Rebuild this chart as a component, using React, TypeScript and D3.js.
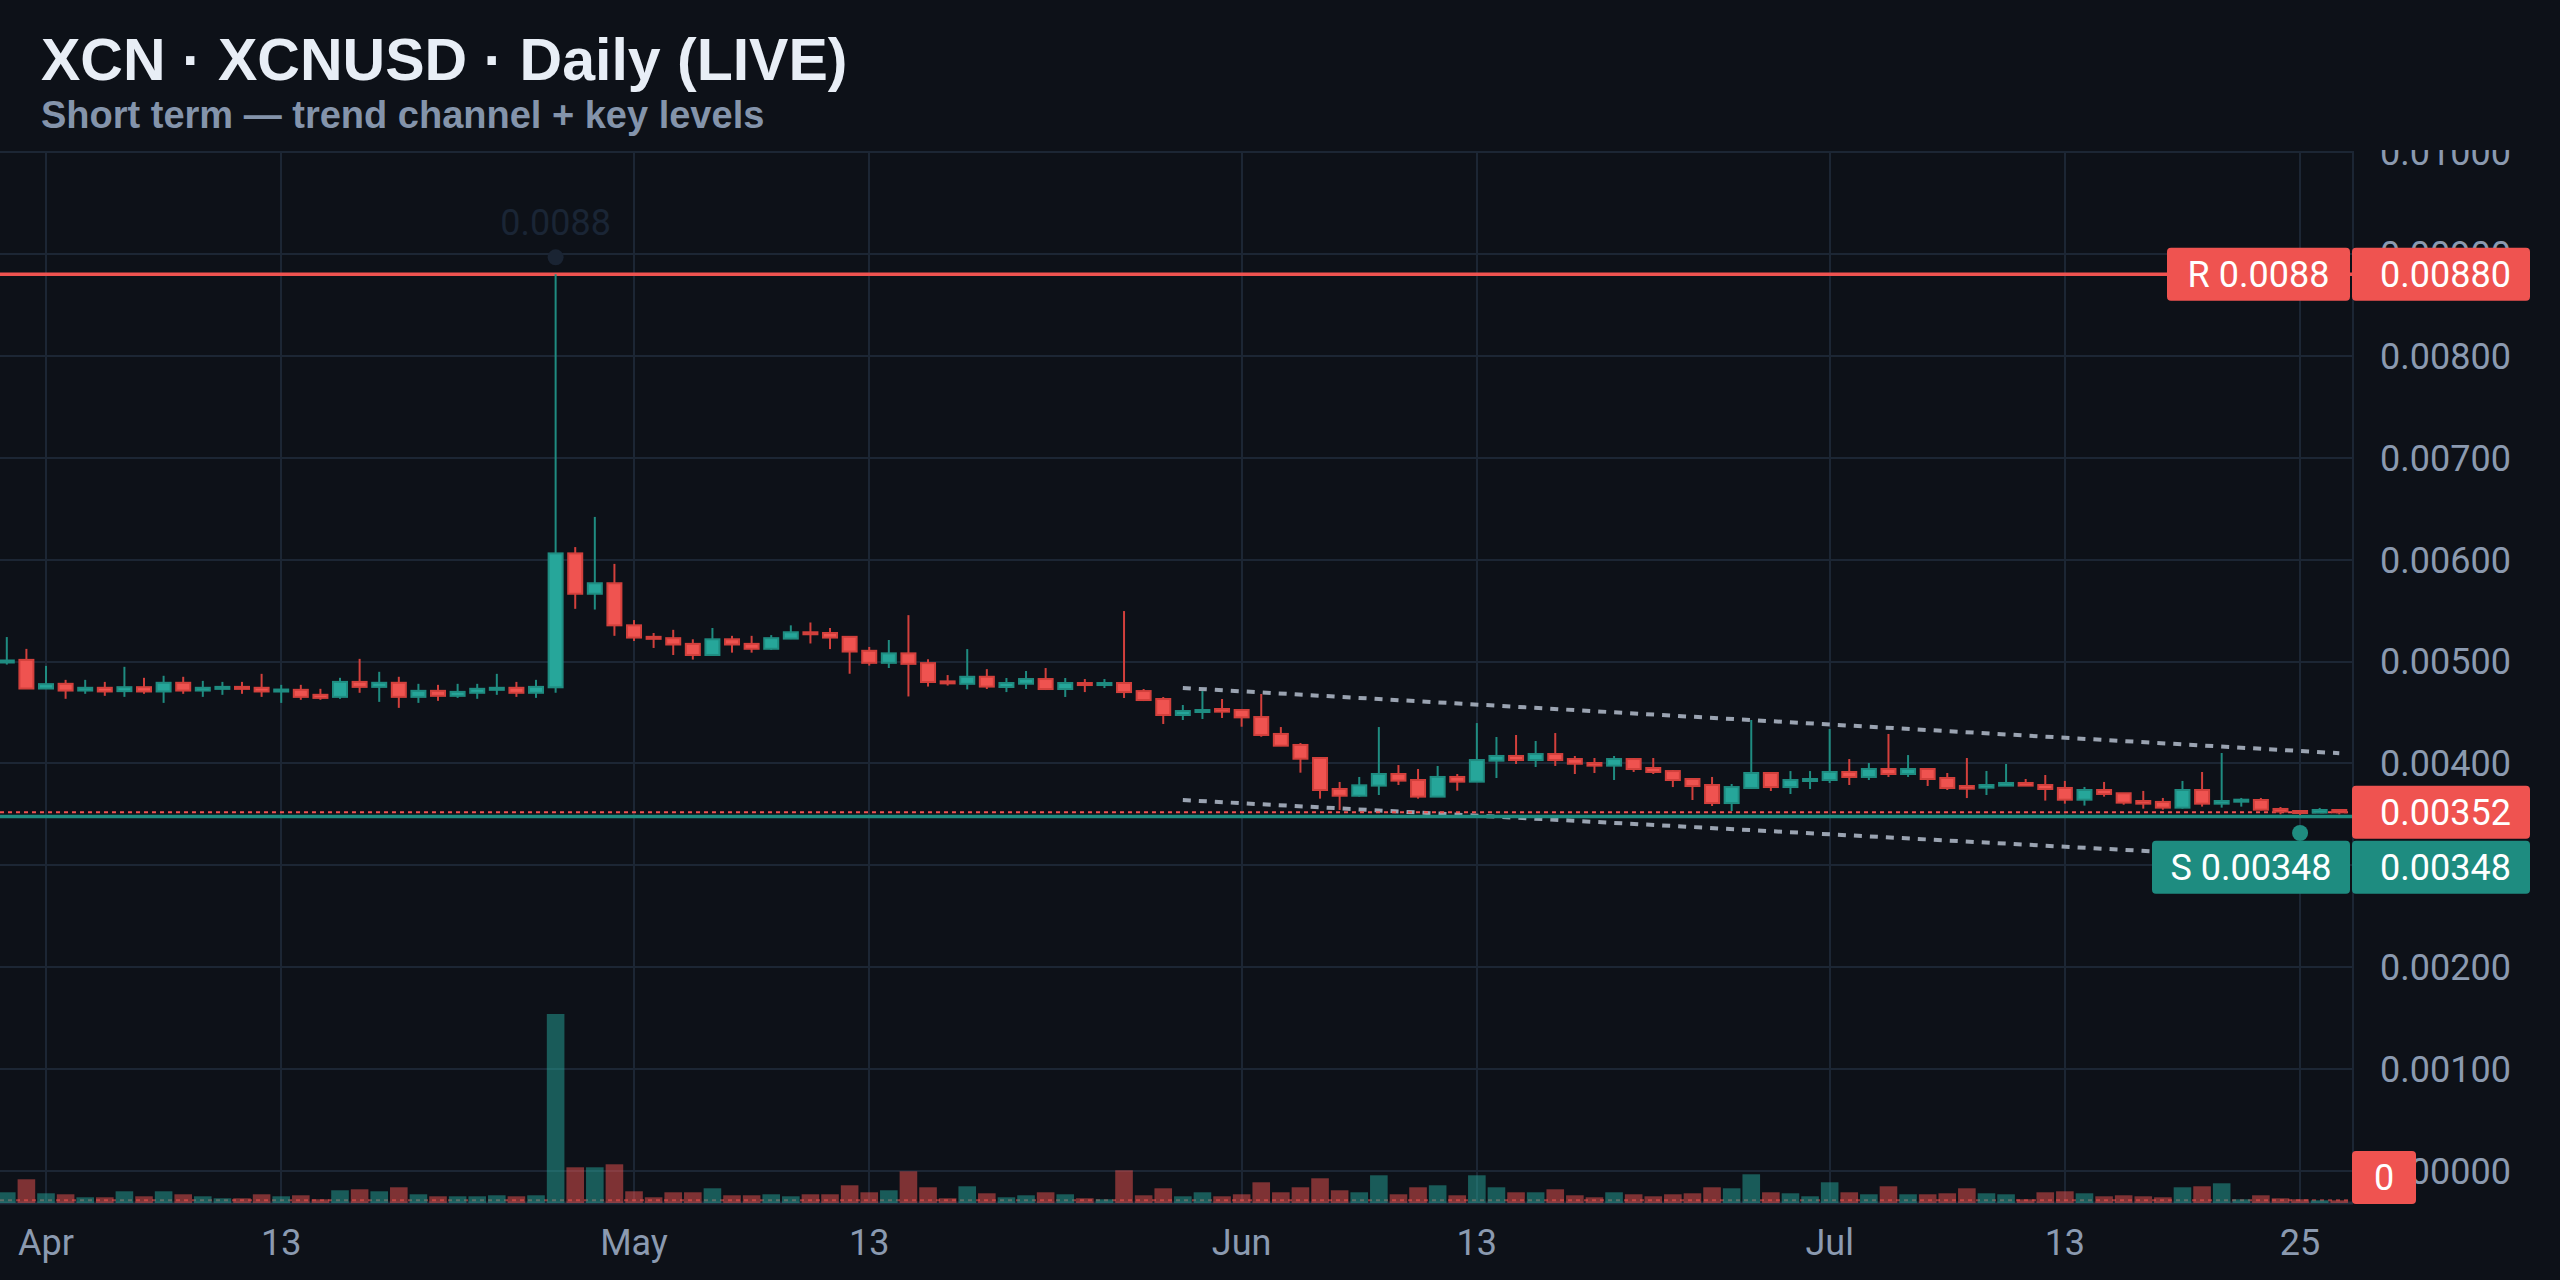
import React, { useRef, useEffect } from 'react';
import * as d3 from 'd3';

// canvas
const width = 2560;
const height = 1280;
const plot = { left: 0, right: 2353, top: 151, bottom: 1203 };

// daily candles, Mar 30 -> Jul 27
const firstDay = new Date(Date.UTC(2025, 2, 30));
const lastDay = new Date(Date.UTC(2025, 6, 27));

const opens = [
  0.005000, 0.005016, 0.004735, 0.004781, 0.004715, 0.004742, 0.004709, 0.004748, 0.004706, 0.004791,
  0.004715, 0.004735, 0.004751, 0.004742, 0.004706, 0.004722, 0.004673, 0.004653, 0.004800, 0.004751,
  0.004791, 0.004653, 0.004712, 0.004663, 0.004693, 0.004722, 0.004742, 0.004693, 0.004747, 0.006061,
  0.005665, 0.005768, 0.005355, 0.005242, 0.005229, 0.005173, 0.005064, 0.005218, 0.005173, 0.005125,
  0.005225, 0.005287, 0.005280, 0.005242, 0.005105, 0.004987, 0.005080, 0.004984, 0.004805, 0.004781,
  0.004850, 0.004750, 0.004782, 0.004828, 0.004730, 0.004789, 0.004769, 0.004789, 0.004710, 0.004632,
  0.004475, 0.004508, 0.004534, 0.004524, 0.004455, 0.004289, 0.004181, 0.004053, 0.003749, 0.003683,
  0.003782, 0.003896, 0.003837, 0.003674, 0.003867, 0.003821, 0.004027, 0.004073, 0.004033, 0.004092,
  0.004043, 0.004004, 0.003978, 0.004043, 0.003955, 0.003925, 0.003847, 0.003788, 0.003611, 0.003759,
  0.003906, 0.003768, 0.003831, 0.003837, 0.003916, 0.003867, 0.003945, 0.003896, 0.003945, 0.003857,
  0.003778, 0.003762, 0.003782, 0.003808, 0.003788, 0.003759, 0.003644, 0.003739, 0.003707, 0.003631,
  0.003622, 0.003566, 0.003739, 0.003605, 0.003625, 0.003641, 0.003553, 0.003533, 0.003517, 0.003543,
];
const highs = [
  0.005240, 0.005124, 0.004957, 0.004820, 0.004820, 0.004800, 0.004948, 0.004840, 0.004860, 0.004850,
  0.004810, 0.004800, 0.004800, 0.004879, 0.004771, 0.004771, 0.004732, 0.004840, 0.005026, 0.004899,
  0.004850, 0.004781, 0.004771, 0.004781, 0.004781, 0.004879, 0.004800, 0.004820, 0.008800, 0.006123,
  0.006419, 0.005958, 0.005407, 0.005280, 0.005311, 0.005218, 0.005329, 0.005252, 0.005252, 0.005259,
  0.005355, 0.005383, 0.005329, 0.005245, 0.005143, 0.005211, 0.005455, 0.005022, 0.004867, 0.005122,
  0.004925, 0.004838, 0.004907, 0.004936, 0.004838, 0.004828, 0.004828, 0.005495, 0.004730, 0.004652,
  0.004573, 0.004710, 0.004632, 0.004530, 0.004681, 0.004357, 0.004200, 0.004060, 0.003818, 0.003867,
  0.004357, 0.003984, 0.003945, 0.003975, 0.003896, 0.004396, 0.004259, 0.004279, 0.004220, 0.004298,
  0.004073, 0.004053, 0.004073, 0.004053, 0.004053, 0.003935, 0.003857, 0.003867, 0.003798, 0.004426,
  0.003910, 0.003925, 0.003925, 0.004338, 0.004043, 0.004004, 0.004289, 0.004082, 0.003950, 0.003906,
  0.004053, 0.003926, 0.003994, 0.003847, 0.003886, 0.003828, 0.003769, 0.003818, 0.003710, 0.003730,
  0.003661, 0.003828, 0.003916, 0.004102, 0.003661, 0.003661, 0.003572, 0.003535, 0.003563, 0.003543,
];
const lows = [
  0.004970, 0.004730, 0.004730, 0.004634, 0.004683, 0.004663, 0.004653, 0.004683, 0.004594, 0.004683,
  0.004653, 0.004673, 0.004683, 0.004653, 0.004594, 0.004624, 0.004624, 0.004634, 0.004693, 0.004604,
  0.004545, 0.004594, 0.004614, 0.004643, 0.004634, 0.004673, 0.004653, 0.004643, 0.004693, 0.005517,
  0.005510, 0.005252, 0.005201, 0.005133, 0.005064, 0.005019, 0.005060, 0.005087, 0.005087, 0.005115,
  0.005220, 0.005177, 0.005122, 0.004880, 0.004960, 0.004936, 0.004657, 0.004754, 0.004764, 0.004726,
  0.004730, 0.004700, 0.004730, 0.004720, 0.004652, 0.004700, 0.004740, 0.004642, 0.004612, 0.004387,
  0.004426, 0.004436, 0.004446, 0.004360, 0.004262, 0.004170, 0.003909, 0.003654, 0.003543, 0.003674,
  0.003690, 0.003788, 0.003654, 0.003670, 0.003732, 0.003820, 0.003857, 0.003994, 0.003965, 0.003975,
  0.003896, 0.003906, 0.003837, 0.003916, 0.003896, 0.003768, 0.003641, 0.003582, 0.003533, 0.003755,
  0.003729, 0.003700, 0.003749, 0.003808, 0.003788, 0.003837, 0.003867, 0.003867, 0.003778, 0.003739,
  0.003660, 0.003690, 0.003780, 0.003780, 0.003635, 0.003605, 0.003586, 0.003674, 0.003595, 0.003556,
  0.003546, 0.003556, 0.003576, 0.003566, 0.003576, 0.003540, 0.003501, 0.003494, 0.003515, 0.003500,
];
const closes = [
  0.005010, 0.004735, 0.004778, 0.004715, 0.004742, 0.004706, 0.004748, 0.004706, 0.004791, 0.004715,
  0.004742, 0.004751, 0.004732, 0.004706, 0.004725, 0.004653, 0.004643, 0.004800, 0.004751, 0.004791,
  0.004653, 0.004712, 0.004663, 0.004702, 0.004732, 0.004742, 0.004693, 0.004751, 0.006061, 0.005665,
  0.005768, 0.005355, 0.005235, 0.005229, 0.005167, 0.005064, 0.005218, 0.005167, 0.005125, 0.005229,
  0.005287, 0.005270, 0.005235, 0.005098, 0.004987, 0.005080, 0.004977, 0.004799, 0.004788, 0.004850,
  0.004754, 0.004789, 0.004828, 0.004730, 0.004789, 0.004769, 0.004789, 0.004700, 0.004622, 0.004475,
  0.004514, 0.004524, 0.004508, 0.004452, 0.004279, 0.004174, 0.004046, 0.003739, 0.003683, 0.003785,
  0.003896, 0.003831, 0.003674, 0.003867, 0.003821, 0.004033, 0.004073, 0.004033, 0.004092, 0.004033,
  0.003997, 0.003978, 0.004043, 0.003945, 0.003916, 0.003837, 0.003778, 0.003611, 0.003768, 0.003906,
  0.003768, 0.003837, 0.003847, 0.003916, 0.003867, 0.003945, 0.003896, 0.003945, 0.003847, 0.003759,
  0.003752, 0.003788, 0.003808, 0.003782, 0.003749, 0.003644, 0.003739, 0.003700, 0.003615, 0.003605,
  0.003566, 0.003739, 0.003605, 0.003631, 0.003644, 0.003546, 0.003527, 0.003517, 0.003543, 0.003520,
];
// volume, millions
const volumes = [
  10.7, 23.7, 9.7, 8.7, 5.7, 5.7, 11.7, 6.7, 11.7, 8.7,
  6.7, 4.7, 4.7, 8.7, 6.7, 7.7, 3.7, 12.7, 13.7, 11.7,
  15.7, 8.7, 6.7, 6.7, 6.7, 7.7, 6.7, 7.7, 189, 35.7,
  35.7, 38.7, 11.7, 5.7, 10.7, 10.7, 14.7, 7.7, 7.7, 8.7,
  6.7, 8.7, 8.7, 17.7, 10.7, 12.7, 31.7, 15.7, 4.7, 16.7,
  9.7, 5.7, 7.7, 10.7, 8.7, 4.7, 3.7, 32.7, 7.7, 14.7,
  6.7, 10.7, 6.7, 8.7, 20.7, 10.7, 15.7, 24.7, 12.7, 10.7,
  27.7, 8.7, 15.7, 17.7, 7.7, 27.7, 15.7, 10.7, 10.7, 13.7,
  7.7, 5.7, 10.7, 8.7, 6.7, 8.7, 9.7, 15.7, 14.7, 28.7,
  10.7, 9.7, 6.7, 20.7, 10.7, 8.7, 16.7, 8.7, 8.7, 9.7,
  14.7, 9.7, 8.7, 3.7, 10.7, 11.7, 9.7, 6.7, 7.7, 6.7,
  5.7, 15.7, 16.7, 19.7, 3.7, 7.7, 4.7, 3.7, 2.7, 2.7,
];

const tickDates = ['2025-04-01', '2025-04-13', '2025-05-01', '2025-05-13', '2025-06-01', '2025-06-13', '2025-07-01', '2025-07-13', '2025-07-25'];
const tickLabels = ['Apr', '13', 'May', '13', 'Jun', '13', 'Jul', '13', '25'];
const priceTicks = [0, 0.001, 0.002, 0.003, 0.004, 0.005, 0.006, 0.007, 0.008, 0.009, 0.01];

const resistance = 0.0088;
const support = 0.00348;
const lastPrice = 0.00352;
const channelDates = ['2025-05-29', '2025-07-27'];
const channelUpper = [0.00474, 0.0041];
const channelLower = [0.00364, 0.00304];

const BG = '#0d1118';
const GRID = '#1c2634';
const UP = '#26a69a';
const DOWN = '#ef5350';
const UP_EDGE = '#1f8c81';
const DOWN_EDGE = '#d2403c';
const AXIS_TEXT = '#8b9ab0';
const AXIS_FONT = 'Roboto, sans-serif';

export default function App() {
  const svgRef = useRef<SVGSVGElement>(null);

  useEffect(() => {
    if (!svgRef.current) return;
    const svg = d3.select(svgRef.current);
    svg.selectAll('*').remove();

    const days = d3.utcDay.range(firstDay, d3.utcDay.offset(lastDay, 1));
    const data = days.map((d, i) => ({
      date: d, o: opens[i], h: highs[i], l: lows[i], c: closes[i], v: volumes[i],
    }));

    const dayMs = 864e5;
    const apr1 = Date.UTC(2025, 3, 1);
    const x = d3.scaleUtc()
      .domain([new Date(apr1 - 2.347 * dayMs), new Date(apr1 + 117.7 * dayMs)])
      .range([plot.left, plot.right]);
    const y = d3.scaleLinear().domain([-0.000314, 0.01001]).range([plot.bottom, plot.top]);
    const yVol = d3.scaleLinear().domain([0, d3.max(volumes)!]).range([plot.bottom, plot.bottom - 189]);
    const parse = d3.utcParse('%Y-%m-%d');

    svg.append('rect').attr('width', width).attr('height', height).attr('fill', BG);

    svg.append('clipPath').attr('id', 'plotClip')
      .append('rect').attr('x', plot.left).attr('y', plot.top)
      .attr('width', plot.right - plot.left).attr('height', plot.bottom - plot.top);
    svg.append('clipPath').attr('id', 'axisClip')
      .append('rect').attr('x', plot.right).attr('y', plot.top - 1)
      .attr('width', width - plot.right).attr('height', height - plot.top);

    // grid
    const grid = svg.append('g').attr('stroke', GRID).attr('stroke-width', 2);
    grid.selectAll('.hg').data(priceTicks).join('line')
      .attr('x1', plot.left).attr('x2', plot.right)
      .attr('y1', d => Math.round(y(d))).attr('y2', d => Math.round(y(d)));
    grid.selectAll('.vg').data(tickDates).join('line')
      .attr('x1', d => Math.round(x(parse(d)!))).attr('x2', d => Math.round(x(parse(d)!)))
      .attr('y1', plot.top).attr('y2', plot.bottom);
    grid.append('line').attr('x1', plot.right).attr('x2', plot.right).attr('y1', plot.top).attr('y2', plot.bottom);
    grid.append('line').attr('x1', plot.left).attr('x2', plot.right).attr('y1', plot.bottom).attr('y2', plot.bottom)
      .attr('stroke', '#222d3c').attr('stroke-width', 3);

    const chart = svg.append('g').attr('clip-path', 'url(#plotClip)');

    // volume
    const lastVol = volumes[volumes.length - 1];
    chart.append('line')
      .attr('x1', plot.left).attr('x2', plot.right)
      .attr('y1', yVol(lastVol)).attr('y2', yVol(lastVol))
      .attr('stroke', DOWN).attr('stroke-opacity', 0.6).attr('stroke-width', 2)
      .attr('stroke-dasharray', '4 4');
    chart.selectAll('.vol').data(data).join('rect')
      .attr('x', d => x(d.date) - 8.8)
      .attr('width', 17.6)
      .attr('y', d => yVol(d.v))
      .attr('height', d => plot.bottom - yVol(d.v))
      .attr('fill', d => (d.c >= d.o ? UP : DOWN))
      .attr('fill-opacity', 0.5);

    // trend channel
    const channel = [channelUpper, channelLower];
    chart.selectAll('.chan').data(channel).join('line')
      .attr('x1', x(parse(channelDates[0])!)).attr('x2', x(parse(channelDates[1])!))
      .attr('y1', d => y(d[0])).attr('y2', d => y(d[1]))
      .attr('stroke', '#9aa3b1').attr('stroke-width', 4)
      .attr('stroke-dasharray', '8 8');

    // key levels
    chart.append('line')
      .attr('x1', plot.left).attr('x2', plot.right)
      .attr('y1', y(support)).attr('y2', y(support))
      .attr('stroke', '#1f8c80').attr('stroke-width', 3.5);
    chart.append('line')
      .attr('x1', plot.left).attr('x2', plot.right)
      .attr('y1', y(resistance)).attr('y2', y(resistance))
      .attr('stroke', DOWN).attr('stroke-width', 3.5);
    chart.append('line')
      .attr('x1', plot.left).attr('x2', plot.right)
      .attr('y1', y(lastPrice)).attr('y2', y(lastPrice))
      .attr('stroke', DOWN).attr('stroke-width', 2)
      .attr('stroke-dasharray', '4 4');

    // candles
    const candles = chart.selectAll('.candle').data(data).join('g');
    candles.append('line')
      .attr('x1', d => x(d.date)).attr('x2', d => x(d.date))
      .attr('y1', d => y(d.h)).attr('y2', d => y(d.l))
      .attr('stroke', d => (d.c >= d.o ? UP_EDGE : DOWN_EDGE))
      .attr('stroke-width', 2);
    candles.append('rect')
      .attr('x', d => x(d.date) - 7)
      .attr('width', 14)
      .attr('y', d => y(Math.max(d.o, d.c)))
      .attr('height', d => Math.max(2, Math.abs(y(d.o) - y(d.c))))
      .attr('fill', d => (d.c >= d.o ? UP : DOWN))
      .attr('stroke', d => (d.c >= d.o ? UP_EDGE : DOWN_EDGE))
      .attr('stroke-width', 2);

    // high / low markers
    const hi = data.reduce((a, b) => (b.h > a.h ? b : a));
    const lo = data.reduce((a, b) => (b.l < a.l ? b : a));
    chart.append('circle').attr('cx', x(hi.date)).attr('cy', y(hi.h) - 17).attr('r', 8).attr('fill', '#1a2433');
    chart.append('text')
      .attr('x', x(hi.date)).attr('y', y(hi.h) - 39)
      .attr('text-anchor', 'middle')
      .attr('font-family', AXIS_FONT).attr('font-size', 36)
      .attr('fill', '#1a2535')
      .text(d3.format('.4f')(hi.h));
    chart.append('circle').attr('cx', x(lo.date)).attr('cy', y(lo.l) + 18).attr('r', 8).attr('fill', '#1f8c80');

    // price axis labels
    const axis = svg.append('g').attr('clip-path', 'url(#axisClip)');
    axis.selectAll('.pl').data(priceTicks).join('text')
      .attr('x', 2511).attr('y', d => y(d))
      .attr('dy', '0.36em')
      .attr('text-anchor', 'end')
      .attr('font-family', AXIS_FONT).attr('font-size', 36)
      .attr('fill', AXIS_TEXT)
      .text(d => d3.format('.5f')(d));

    // badges
    const bh = 53;
    const badge = (x0: number, x1: number, top: number, fill: string, label: string, anchor: 'end' | 'middle', tx: number) => {
      svg.append('rect').attr('x', x0).attr('y', top).attr('width', x1 - x0).attr('height', bh)
        .attr('rx', 4).attr('fill', fill);
      svg.append('text').attr('x', tx).attr('y', top + bh / 2).attr('dy', '0.36em')
        .attr('text-anchor', anchor)
        .attr('font-family', AXIS_FONT).attr('font-size', 36).attr('fill', '#ffffff')
        .text(label);
    };
    const rTop = y(resistance) - bh / 2;
    badge(2167, 2350, rTop, DOWN, `R ${d3.format('.4f')(resistance)}`, 'middle', 2258.5);
    badge(2352, 2530, rTop, DOWN, d3.format('.5f')(resistance), 'end', 2511);
    const pTop = y(lastPrice) - bh / 2;
    badge(2352, 2530, pTop, DOWN, d3.format('.5f')(lastPrice), 'end', 2511);
    const sTop = Math.max(y(support) - bh / 2, pTop + bh + 2);
    badge(2152, 2350, sTop, '#1e8c80', `S ${d3.format('.5f')(support)}`, 'middle', 2251);
    badge(2352, 2530, sTop, '#1e8c80', d3.format('.5f')(support), 'end', 2511);
    badge(2352, 2416, plot.bottom - bh + 1, DOWN, '0', 'middle', 2384);

    // time axis
    svg.selectAll('.tl').data(tickDates).join('text')
      .attr('x', d => x(parse(d)!)).attr('y', 1255)
      .attr('text-anchor', 'middle')
      .attr('font-family', AXIS_FONT).attr('font-size', 36)
      .attr('fill', AXIS_TEXT)
      .text((d, i) => tickLabels[i]);

    // header
    svg.append('text').attr('x', 41).attr('y', 80)
      .attr('font-family', '"Liberation Sans", Arial, sans-serif').attr('font-weight', 700)
      .attr('font-size', 59).attr('fill', '#e8eef6')
      .text('XCN · XCNUSD · Daily (LIVE)');
    svg.append('text').attr('x', 41).attr('y', 128)
      .attr('font-family', '"Liberation Sans", Arial, sans-serif').attr('font-weight', 700)
      .attr('font-size', 38).attr('fill', '#8494ab')
      .text('Short term — trend channel + key levels');
  }, []);

  return (
    <svg
      ref={svgRef}
      width={width}
      height={height}
      style={{ position: 'absolute', left: 0, top: 0, display: 'block' }}
    />
  );
}
